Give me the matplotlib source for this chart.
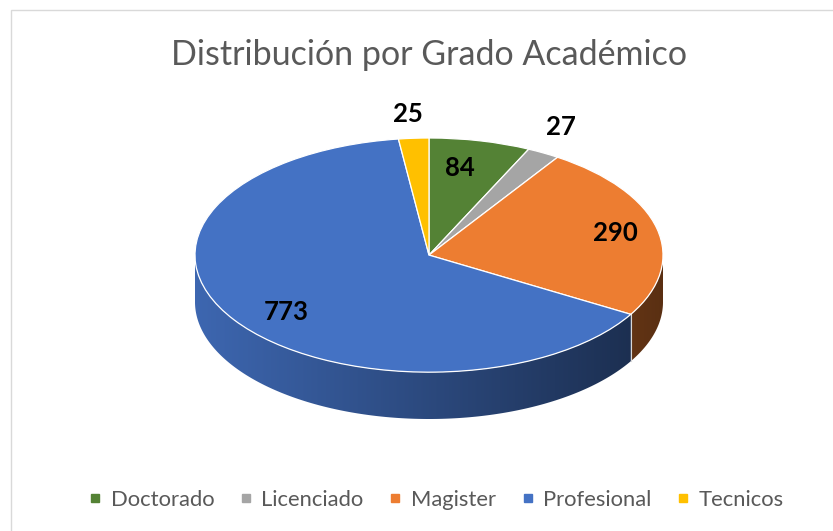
import numpy as np
import matplotlib
matplotlib.use("Agg")
import matplotlib.pyplot as plt
from matplotlib.lines import Line2D
from matplotlib.patches import Rectangle, Polygon
from matplotlib.colors import to_rgb

plt.rcParams["font.family"] = ["Lato", "DejaVu Sans"]

categories = ["Doctorado", "Licenciado", "Magister", "Profesional", "Tecnicos"]
values = [84, 27, 290, 773, 25]
colors = ["#548235", "#A5A5A5", "#ED7D31", "#4472C4", "#FFC000"]
title = "Distribución por Grado Académico"

# label placement as fraction of the radius (x, y)
label_r = [(0.61, 0.76), (1.15, 1.25), (0.82, 0.83), (0.73, 0.88), (1.38, 1.21)]
depth = 0.40  # thickness of the "3D" disc, in radius units

fig = plt.figure(figsize=(8.33, 5.31), dpi=100)
ax = fig.add_axes([195 / 833, 112 / 531, 468 / 833, 281 / 531])

wedges, _ = ax.pie(values, colors=colors, startangle=90, counterclock=False,
                   radius=1, wedgeprops=dict(edgecolor="white", linewidth=0.9))
ax.set_aspect("auto")
ax.set_xlim(-1, 1)
ax.set_ylim(-1 - depth, 1)
ax.axis("off")

# side walls of the disc (front half only), shaded darker toward the right
total = sum(values)
edges = 90 - 360 * np.concatenate([[0], np.cumsum(values)]) / total
xs = np.linspace(-1, 1, 400)
shade = 0.64 - 0.26 * xs
for i, col in enumerate(colors):
    lo = max(edges[i + 1], -180)
    hi = min(edges[i], 0)
    if lo >= hi:
        continue
    t = np.radians(np.linspace(lo, hi, 200))
    top = np.column_stack([np.cos(t), np.sin(t)])
    bottom = np.column_stack([np.cos(t[::-1]), np.sin(t[::-1]) - depth])
    wall = Polygon(np.vstack([top, bottom]), closed=True, facecolor="none",
                   edgecolor="none", zorder=0.5)
    ax.add_patch(wall)
    grad = np.clip(np.array(to_rgb(col))[None, None, :] * shade[None, :, None], 0, 1)
    im = ax.imshow(grad, extent=(-1, 1, -1 - depth, 1), aspect="auto",
                   interpolation="bilinear", zorder=0.5)
    im.set_clip_path(wall)

ax.set_xlim(-1, 1)
ax.set_ylim(-1 - depth, 1)

# light seam between visible walls
for e in edges:
    t = np.radians(e)
    if np.sin(t) < 0:
        ax.plot([np.cos(t), np.cos(t)], [np.sin(t), np.sin(t) - depth],
                color="#d8d8d8", lw=0.8, zorder=0.6)

# value labels
for i, v in enumerate(values):
    t = np.radians((edges[i] + edges[i + 1]) / 2)
    rx, ry = label_r[i]
    ax.text(rx * np.cos(t), ry * np.sin(t), str(v), ha="center", va="center",
            fontsize=18.5, fontweight="bold", color="black", zorder=5, clip_on=False)

fig.text(429 / 833, 1 - 65 / 531, title, ha="center", va="baseline",
         fontsize=24.5, color="#595959")

handles = [Line2D([], [], marker="s", ls="none", color=c, markersize=5.5)
           for c in colors]
fig.legend(handles, categories, loc="center", bbox_to_anchor=(435 / 833, 31 / 531),
           ncol=5, frameon=False, fontsize=15.8, labelcolor="#595959",
           handletextpad=0.3, columnspacing=1.05, handlelength=0.8)

fig.patches.append(Rectangle((11 / 833, -0.05), 1.0, 521 / 531 + 0.05,
                             transform=fig.transFigure, fill=False,
                             edgecolor="#D9D9D9", lw=1))

fig.savefig("out.png", dpi=100)
